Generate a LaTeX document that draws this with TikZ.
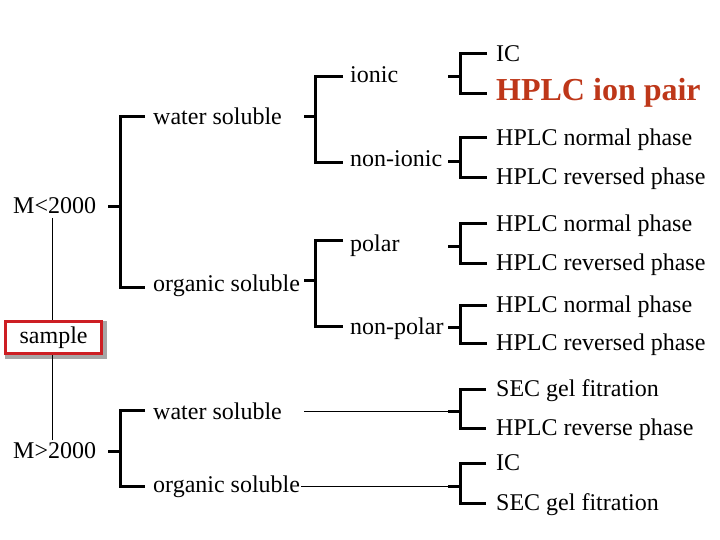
\documentclass[tikz,border=0pt]{standalone}
\usepackage{fontspec}
\setmainfont{Liberation Serif}
\usetikzlibrary{backgrounds}
\definecolor{ionred}{RGB}{190,55,25}
\definecolor{boxred}{RGB}{205,30,35}
\newcommand\mybr[7]{% name, xs, xv, xa, yt, yb, ym
  \coordinate (#1s) at (#2,#7); \coordinate (#1m) at (#3,#7);
  \coordinate (#1t) at (#3,#5); \coordinate (#1b) at (#3,#6);
  \coordinate (#1ta) at (#4,#5); \coordinate (#1ba) at (#4,#6);
  \draw[bar] (#1s) -- (#1m);
  \draw[bar] (#1ta) -- (#1t) -- (#1b) -- (#1ba);}
\begin{document}
\begin{tikzpicture}[x=1bp,y=-1bp,
  lbl/.style={anchor=base west,inner sep=0pt,font=\fontsize{24bp}{28bp}\selectfont},
  redlbl/.style={anchor=base west,inner sep=0pt,text=ionred,font=\fontsize{32bp}{36bp}\selectfont\bfseries},
  bar/.style={line width=3bp,line cap=butt,line join=miter},
  thinl/.style={line width=1bp},
  samplebox/.style={draw=boxred,line width=2.7bp,fill=white,inner sep=0pt,
    minimum width=96bp,minimum height=32.3bp,
    font=\fontsize{24bp}{28bp}\selectfont},
  boxshadow/.style={fill=black!35}]
\useasboundingbox (0,0) rectangle (720,540);

% level 1
\node[lbl] (mlo) at (13,214) {M<2000};
\node[lbl] (mhi) at (13,458) {M>2000};
\node[samplebox] (sample) at (53.65,337.5) {sample};
\begin{scope}[on background layer]
  \fill[boxshadow] ([xshift=1.15bp,yshift=-3.85bp]sample.south west)
    rectangle ([xshift=3.85bp,yshift=-1.15bp]sample.north east);
\end{scope}
\coordinate (mloJ) at (52.3,218);
\coordinate (mhiJ) at (52.3,440);
\draw[thinl] (mloJ) -- (mloJ |- sample.north);
\draw[thinl] (mhiJ |- sample.south) -- (mhiJ);

% level 2
\node[lbl] (ws1) at (153,124.5) {water soluble};
\node[lbl] (os1) at (153,291) {organic soluble};
\node[lbl] (ws2) at (153,419) {water soluble};
\node[lbl] (os2) at (153,492) {organic soluble};

% level 3
\node[lbl] (ion) at (350,83) {ionic};
\node[lbl] (nion) at (350,167) {non-ionic};
\node[lbl] (pol) at (350,252) {polar};
\node[lbl] (npol) at (350,334) {non-polar};

% level 4
\node[lbl] (t1) at (496,61.5) {IC};
\node[redlbl] (t2) at (496,100.3) {HPLC ion pair};
\node[lbl] (t3) at (496,145.5) {HPLC normal phase};
\node[lbl] (t4) at (496,184.5) {HPLC reversed phase};
\node[lbl] (t5) at (496,231.5) {HPLC normal phase};
\node[lbl] (t6) at (496,270.8) {HPLC reversed phase};
\node[lbl] (t7) at (496,312.5) {HPLC normal phase};
\node[lbl] (t8) at (496,350.8) {HPLC reversed phase};
\node[lbl] (t9) at (496,396.5) {SEC gel fitration};
\node[lbl] (t10) at (496,435.5) {HPLC reverse phase};
\node[lbl] (t11) at (496,470.5) {IC};
\node[lbl] (t12) at (496,510.5) {SEC gel fitration};

% brackets
\mybr{A}{108}{120}{145}{117}{287}{207}
\mybr{B}{108}{120}{145}{410.7}{486}{451.7}
\mybr{C}{304}{315}{343}{77}{163}{117}
\mybr{D}{304}{315}{343}{241}{326}{280}
\mybr{E}{448}{460}{487}{54}{93.3}{77}
\mybr{F}{448}{460}{487}{138}{177.5}{162}
\mybr{G}{448}{460}{487}{224}{263.3}{247}
\mybr{H}{448}{460}{487}{305}{343.3}{327}
\mybr{I}{448}{460}{486}{389}{428}{411.5}
\mybr{J}{448}{460}{486}{463}{503}{486}

% thin connectors
\coordinate (ws2e) at (304,411.5);
\coordinate (os2e) at (301,486);
\draw[thinl] (ws2e) -- (Is);
\draw[thinl] (os2e) -- (Js);
\end{tikzpicture}
\end{document}
